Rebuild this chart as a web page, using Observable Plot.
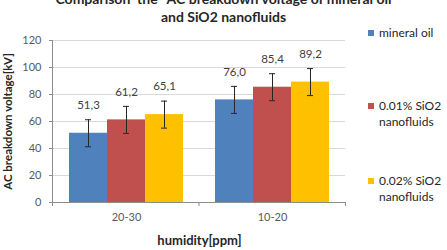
<!DOCTYPE html>
<html>
<head>
<meta charset="utf-8">
<script src="https://cdn.jsdelivr.net/npm/d3@7"></script>
<script src="https://cdn.jsdelivr.net/npm/@observablehq/plot@0.6"></script>
<style>
  html, body { margin: 0; padding: 0; background: #fff; }
  #wrap { position: relative; width: 447px; height: 250px; overflow: hidden; font-family: Lato, "Open Sans", sans-serif; }
  #title { position: absolute; left: 0; width: 447px; top: -10px; text-align: center; font-weight: bold; font-size: 14px; line-height: 17.5px; color: #262626; white-space: pre; }
  #legend { position: absolute; left: 368px; top: 0; font-size: 12px; color: #262626; }
  .item { position: absolute; left: 0; white-space: nowrap; line-height: 16px; }
  .sw { position: absolute; left: 0; top: 5px; width: 6px; height: 6px; }
  .lab { position: absolute; left: 11px; top: 0; }
  g[aria-label="y-axis label"] text { font-weight: bold; fill: #262626; font-size: 11.5px; }
  g[aria-label="fx-axis label"] text { font-weight: bold; fill: #262626; font-size: 13px; }
</style>
</head>
<body>
<div id="wrap">
  <div id="title"></div>
  <div id="legend"></div>
</div>
<script>
// Humidity ranges on the category axis
const humidity = ["20-30", "10-20"];
// Oil samples (one bar per sample in each humidity group)
const samples = ["mineral oil", "0.01% SiO2 nanofluids", "0.02% SiO2 nanofluids"];
const sampleLines = [["mineral oil"], ["0.01% SiO2", "nanofluids"], ["0.02% SiO2", "nanofluids"]];
// Mean AC breakdown voltage [kV] per humidity range
const mineralOil = [51.3, 76.0];
const sio2_001 = [61.2, 85.4];
const sio2_002 = [65.1, 89.2];
// Error bar half-widths [kV]
const errMineralOil = [10, 10];
const errSio2_001 = [10, 10];
const errSio2_002 = [10, 10];
const yTicks = [0, 20, 40, 60, 80, 100, 120];
const colors = ["#4f81bd", "#c0504d", "#ffc000"];

const titleLines = ["Comparison  the  'AC breakdown voltage of mineral oil", "and SiO2 nanofluids"];

const valueSets = [mineralOil, sio2_001, sio2_002];
const errSets = [errMineralOil, errSio2_001, errSio2_002];
const rows = [];
humidity.forEach((h, i) => {
  samples.forEach((s, j) => {
    rows.push({humidity: h, sample: s, value: valueSets[j][i], err: errSets[j][i]});
  });
});
const fmt = v => v.toFixed(1).replace(".", ",");

const chart = Plot.plot({
  width: 447,
  height: 250,
  marginLeft: 52,
  marginRight: 102,
  marginTop: 40,
  marginBottom: 48,
  style: {fontFamily: "Lato, 'Open Sans', sans-serif", fontSize: "11px", color: "#595959", background: "transparent"},
  fx: {domain: humidity, padding: 0, label: "humidity[ppm]"},
  x: {domain: samples, paddingInner: 0, paddingOuter: 0.394, axis: null},
  y: {domain: [0, 120]},
  color: {domain: samples, range: colors},
  marks: [
    Plot.gridY(yTicks, {stroke: "#d9d9d9", strokeOpacity: 1}),
    Plot.barY(rows, {fx: "humidity", x: "sample", y: "value", fill: "sample"}),
    Plot.ruleX(rows, {fx: "humidity", x: "sample", y1: d => d.value - d.err, y2: d => d.value + d.err, stroke: "#262626"}),
    Plot.tickY(rows, {fx: "humidity", x: "sample", y: d => d.value - d.err, stroke: "#262626", insetLeft: 16, insetRight: 16}),
    Plot.tickY(rows, {fx: "humidity", x: "sample", y: d => d.value + d.err, stroke: "#262626", insetLeft: 16, insetRight: 16}),
    Plot.text(rows, {fx: "humidity", x: "sample", y: "value", text: d => fmt(d.value), dy: -28, fill: "#404040", fontSize: 11.5}),
    Plot.ruleY([0], {stroke: "#8c8c8c"}),
    Plot.axisY({ticks: yTicks, tickSize: 4, tickPadding: 8, stroke: "#8c8c8c", label: "AC breakdown voltage[kV]", labelAnchor: "center", labelOffset: 50, labelArrow: "none"}),
    Plot.axisFx({anchor: "bottom", tickSize: 0, tickPadding: 11, label: "humidity[ppm]", labelAnchor: "center", labelOffset: 42, labelArrow: "none"})
  ]
});

const wrap = document.getElementById("wrap");
wrap.insertBefore(chart, wrap.firstChild);
chart.style.position = "absolute";
chart.style.left = "0";
chart.style.top = "0";

// Left axis line and category separator ticks, placed with the chart's scales
const fxs = chart.scale("fx");
const ys = chart.scale("y");
const band = d3.scaleBand().domain(fxs.domain).range(fxs.range).padding(0);
const y0 = ys.apply(0), y120 = ys.apply(120);
const edges = fxs.domain.map(d => band(d)).concat([band(fxs.domain[fxs.domain.length - 1]) + band.bandwidth()]);
const svg = d3.select(chart);
const g = svg.append("g").attr("stroke", "#8c8c8c");
g.append("line").attr("x1", edges[0] + 0.5).attr("x2", edges[0] + 0.5).attr("y1", y120).attr("y2", y0);
edges.forEach(x => {
  g.append("line").attr("x1", x + 0.5).attr("x2", x + 0.5).attr("y1", y0).attr("y2", y0 + 4);
});

// Title
const title = document.getElementById("title");
titleLines.forEach(t => { const d = document.createElement("div"); d.textContent = t; title.appendChild(d); });

// Legend
const legend = document.getElementById("legend");
const tops = [25, 98, 173];
samples.forEach((s, j) => {
  const item = document.createElement("div");
  item.className = "item";
  item.style.top = tops[j] + "px";
  const sw = document.createElement("div");
  sw.className = "sw";
  sw.style.background = colors[j];
  const lab = document.createElement("div");
  lab.className = "lab";
  sampleLines[j].forEach(l => { const d = document.createElement("div"); d.textContent = l; lab.appendChild(d); });
  item.appendChild(sw);
  item.appendChild(lab);
  legend.appendChild(item);
});
</script>
</body>
</html>
